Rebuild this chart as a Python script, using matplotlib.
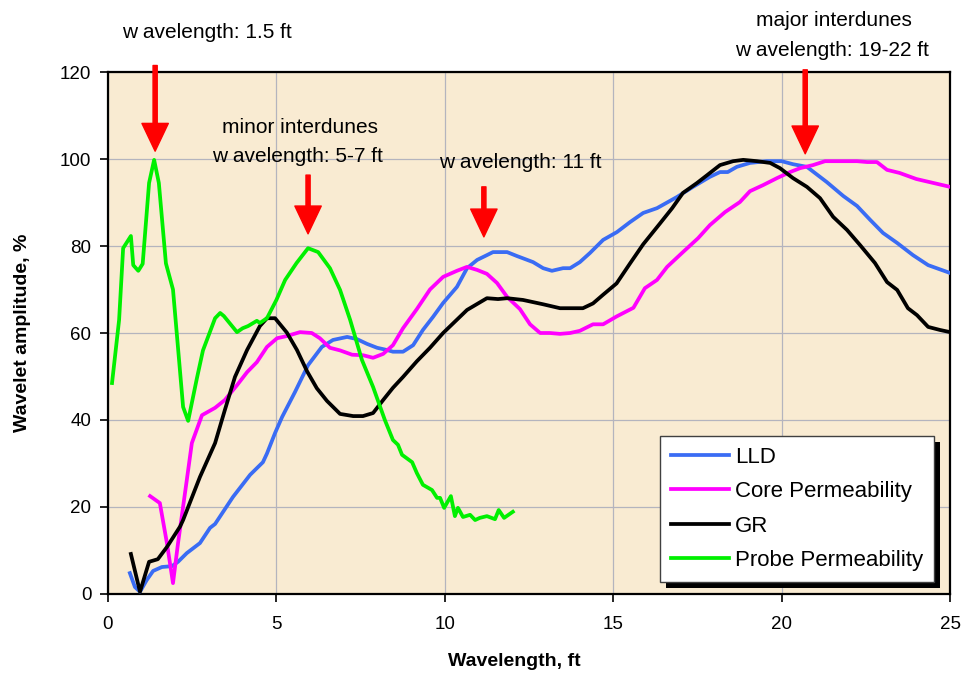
import matplotlib
matplotlib.use("Agg")
import matplotlib.pyplot as plt
from matplotlib.patches import Rectangle

plt.rcParams["font.family"] = ["Liberation Sans", "DejaVu Sans"]

# ── Data ──────────────────────────────────────────────────────────────────────
lld_x = [0.65, 0.8, 0.95, 1.15, 1.34, 1.6, 1.9, 2.08, 2.34, 2.73, 3.03, 3.18,
         3.71, 4.22, 4.6, 4.72, 4.96, 5.17, 5.55, 5.94, 6.35, 6.68, 7.1, 7.39,
         7.69, 7.99, 8.28, 8.46, 8.76, 9.06, 9.35, 9.65, 9.95, 10.36, 10.66,
         10.96, 11.25, 11.43, 11.85, 12.14, 12.62, 12.92, 13.18, 13.51, 13.72,
         14.01, 14.31, 14.7, 15.11, 15.5, 15.89, 16.3, 16.9, 17.37, 17.87,
         18.17, 18.4, 18.67, 19.06, 19.56, 20.0, 20.34, 20.75, 21.34, 21.83,
         22.24, 22.63, 23.01, 23.43, 23.9, 24.35, 25.0]
lld_y = [4.8, 1.6, 0.5, 3.2, 5.3, 6.2, 6.4, 7.4, 9.4, 11.7, 15.2, 16.1,
         22.3, 27.4, 30.3, 32.3, 37.0, 40.7, 46.4, 52.6, 56.8, 58.4, 59.1, 58.6,
         57.5, 56.6, 56.1, 55.7, 55.7, 57.2, 60.7, 63.7, 66.9, 70.6, 74.9,
         76.8, 77.9, 78.6, 78.6, 77.7, 76.3, 74.9, 74.3, 74.9, 74.9,
         76.3, 78.4, 81.4, 83.2, 85.5, 87.6, 88.7, 91.3, 93.6, 95.9,
         97.0, 97.0, 98.2, 99.1, 99.5, 99.5, 98.8, 98.2, 94.7, 91.5,
         89.2, 86.0, 83.0, 80.7, 77.9, 75.6, 73.8]

core_x = [1.25, 1.54, 1.75, 1.93, 2.08, 2.34, 2.49, 2.79, 3.18, 3.47, 3.83,
          4.13, 4.42, 4.72, 5.02, 5.31, 5.7, 6.05, 6.29, 6.59, 6.89, 7.25,
          7.57, 7.87, 8.17, 8.46, 8.76, 9.17, 9.56, 9.95, 10.36, 10.66, 10.96,
          11.25, 11.55, 11.85, 12.23, 12.53, 12.83, 13.12, 13.42, 13.72,
          14.01, 14.4, 14.7, 15.1, 15.6, 15.94, 16.3, 16.6, 17.07, 17.52,
          17.87, 18.32, 18.76, 19.06, 19.45, 19.86, 20.25, 20.55, 20.93,
          21.29, 21.73, 22.24, 22.54, 22.83, 23.13, 23.5, 24.0, 24.5, 25.0]
core_y = [22.5, 20.9, 11.7, 2.5, 11.7, 26.2, 34.7, 41.1, 42.8, 44.6, 48.0,
          51.0, 53.3, 56.8, 58.8, 59.3, 60.2, 60.0, 58.8, 56.6, 56.0, 55.0,
          54.9, 54.3, 55.2, 57.2, 61.1, 65.5, 70.0, 72.9, 74.3, 75.2, 74.5,
          73.6, 71.5, 68.3, 65.5, 62.0, 60.0, 60.0, 59.8, 60.0,
          60.5, 62.0, 62.0, 63.8, 65.8, 70.3, 72.2, 75.2, 78.6, 81.8,
          84.8, 87.8, 90.1, 92.6, 94.0, 95.6, 97.0, 97.9, 98.6,
          99.5, 99.5, 99.5, 99.3, 99.3, 97.5, 96.8, 95.4, 94.5, 93.6]

gr_x = [0.68, 0.95, 1.22, 1.48, 1.75, 2.14, 2.23, 2.73, 3.18, 3.47, 3.77,
        4.13, 4.51, 4.72, 4.96, 5.31, 5.61, 5.91, 6.2, 6.5, 6.89, 7.28, 7.57,
        7.87, 8.17, 8.46, 8.76, 9.17, 9.56, 9.95, 10.66, 11.25, 11.58, 11.85,
        12.32, 12.92, 13.42, 13.81, 14.1, 14.4, 14.7, 15.1, 15.5, 15.89,
        16.39, 16.75, 17.07, 17.49, 17.79, 18.17, 18.56, 18.86, 19.27, 19.66,
        19.95, 20.34, 20.75, 21.14, 21.53, 21.94, 22.33, 22.77, 23.13, 23.43,
        23.75, 24.02, 24.35, 24.7, 25.0]
gr_y = [9.2, 0.5, 7.4, 8.0, 10.8, 15.5, 17.0, 26.9, 34.7, 42.3, 49.9,
        56.1, 61.6, 63.4, 63.4, 60.1, 56.1, 51.2, 47.3, 44.4, 41.4, 40.9, 40.9,
        41.6, 44.6, 47.4, 49.9, 53.5, 56.6, 60.0, 65.3, 68.0, 67.8, 68.0,
        67.6, 66.6, 65.7, 65.7, 65.7, 66.8, 68.8, 71.4, 76.0, 80.4,
        85.2, 88.7, 92.2, 94.5, 96.3, 98.6, 99.5, 99.8, 99.5, 99.1,
        97.9, 95.6, 93.6, 91.0, 86.7, 83.7, 80.2, 76.1, 71.7, 69.9,
        65.7, 64.1, 61.4, 60.7, 60.2]

probe_x = [0.12, 0.33, 0.45, 0.68, 0.75, 0.9, 1.03, 1.22, 1.37, 1.51, 1.72,
           1.93, 2.23, 2.38, 2.64, 2.82, 3.18, 3.33, 3.44, 3.83, 4.0, 4.16,
           4.42, 4.51, 4.72, 5.0, 5.26, 5.6, 5.94, 6.24, 6.59, 6.89, 7.19,
           7.54, 7.87, 8.22, 8.46, 8.61, 8.73, 9.03, 9.17, 9.35, 9.62, 9.77,
           9.86, 9.98, 10.18, 10.3, 10.39, 10.54, 10.75, 10.9, 11.04, 11.25,
           11.49, 11.6, 11.76, 12.02]
probe_y = [48.5, 63.0, 79.5, 82.3, 75.6, 74.3, 75.9, 94.5, 99.8, 94.5, 76.0,
           70.0, 43.0, 39.8, 49.6, 56.0, 63.4, 64.6, 63.9, 60.2, 61.1, 61.6,
           62.8, 62.3, 63.4, 67.6, 72.2, 76.1, 79.5, 78.6, 74.9, 69.9, 63.0,
           53.8, 47.6, 40.0, 35.4, 34.3, 32.0, 30.3, 27.8, 25.1, 23.9, 22.1,
           22.1, 19.8, 22.5, 17.9, 19.8, 17.7, 18.2, 17.0, 17.5, 17.9,
           17.2, 19.3, 17.5, 18.9]

# marker arrows: (x, top, tip) and their captions
arrow_x = [1.4, 5.94, 11.16, 20.7]
arrow_top = [121.5, 96.3, 93.6, 120.5]
arrow_tip = [101.8, 82.8, 82.1, 101.2]
notes = [
    (2.94, 129.0, "w avelength: 1.5 ft"),
    (5.7, 107.2, "minor interdunes"),
    (5.64, 100.5, "w avelength: 5-7 ft"),
    (12.23, 99.1, "w avelength: 11 ft"),
    (21.56, 131.8, "major interdunes"),
    (21.5, 124.9, "w avelength: 19-22 ft"),
]

# ── Figure ────────────────────────────────────────────────────────────────────
fig = plt.figure(figsize=(9.65, 6.73), dpi=100)
fig.patch.set_facecolor("white")
ax = fig.add_axes([0.1119, 0.1174, 0.8726, 0.7756])
ax.set_facecolor("#F9EBD2")

LW = 2.7
ax.plot(lld_x, lld_y, color="#3A6CF4", lw=LW, label="LLD", zorder=3)
ax.plot(core_x, core_y, color="#FF00FF", lw=LW, label="Core Permeability", zorder=3)
ax.plot(gr_x, gr_y, color="black", lw=LW, label="GR", zorder=3)
ax.plot(probe_x, probe_y, color="#00F000", lw=LW, label="Probe Permeability", zorder=3)

ax.set_xlim(0, 25)
ax.set_ylim(0, 120)
ax.set_xticks(range(0, 26, 5))
ax.set_yticks(range(0, 121, 20))
ax.grid(True, color="#B4B4BE", lw=0.9, zorder=1)
ax.set_axisbelow(True)
ax.tick_params(labelsize=13.5, length=6, width=1.2, direction="out")
ax.tick_params(axis="x", pad=10)
ax.tick_params(axis="y", pad=6)
for sp in ax.spines.values():
    sp.set_linewidth(1.6)
    sp.set_color("black")

ax.set_xlabel("Wavelength, ft", fontsize=14, fontweight="bold")
ax.set_ylabel("Wavelet amplitude, %", fontsize=14, fontweight="bold")
ax.xaxis.set_label_coords(0.4824, -0.130)
ax.yaxis.set_label_coords(-0.102, 0.5)
ax.xaxis.label.set_va("center")
ax.yaxis.label.set_va("center")

# red arrows
for x, y0, y1 in zip(arrow_x, arrow_top, arrow_tip):
    ax.annotate("", xy=(x, y1), xytext=(x, y0), annotation_clip=False,
                arrowprops=dict(facecolor="#FF0000", edgecolor="#FF0000",
                                width=3.0, headwidth=19, headlength=20,
                                shrink=0.0), zorder=5)

for x, y, s in notes:
    ax.text(x, y, s, ha="center", va="center", fontsize=15,
            clip_on=False, zorder=6)

# legend with a hard black drop shadow
leg = ax.legend(loc="lower right", bbox_to_anchor=(0.981, 0.023),
                borderaxespad=0, fontsize=16, frameon=True, fancybox=False,
                framealpha=1.0, handlelength=2.6, handletextpad=0.28,
                labelspacing=0.6, borderpad=0.5)
leg.get_frame().set_edgecolor("#404040")
leg.get_frame().set_linewidth(1.0)
leg.get_frame().set_facecolor("white")
leg.set_zorder(8)

fig.canvas.draw()
bb = leg.get_window_extent()
shadow = Rectangle((bb.x0 + 6, bb.y0 - 6), bb.width, bb.height,
                   transform=None, facecolor="black", edgecolor="none",
                   clip_on=False, zorder=7)
ax.add_patch(shadow)

fig.savefig("out.png", dpi=100, facecolor="white")
